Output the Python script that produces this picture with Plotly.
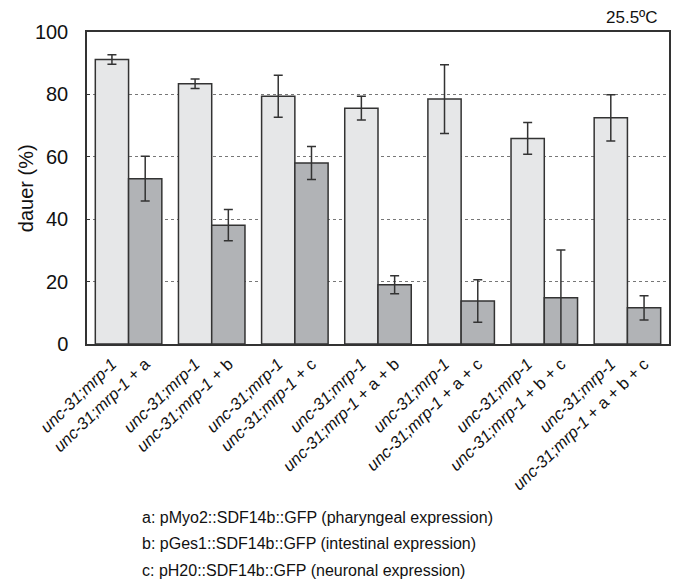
import plotly.graph_objects as go

# Dauer formation at 25.5 °C: control strain vs. rescue constructs
groups = [0, 1, 2, 3, 4, 5, 6]
control_labels = ["<i>unc-31;mrp-1</i>"] * 7
rescue_labels = [
    "<i>unc-31;mrp-1</i> + a",
    "<i>unc-31;mrp-1</i> + b",
    "<i>unc-31;mrp-1</i> + c",
    "<i>unc-31;mrp-1</i> + a + b",
    "<i>unc-31;mrp-1</i> + a + c",
    "<i>unc-31;mrp-1</i> + b + c",
    "<i>unc-31;mrp-1</i> + a + b + c",
]
control_vals = [91.2, 83.4, 79.4, 75.6, 78.5, 65.9, 72.5]
control_err = [1.5, 1.5, 6.7, 3.8, 11.0, 5.1, 7.4]
rescue_vals = [53.0, 38.1, 58.0, 19.0, 13.8, 14.8, 11.6]
rescue_err = [7.2, 5.0, 5.3, 2.9, 6.8, 15.3, 3.9]

y_ticks = [0, 20, 40, 60, 80, 100]
footnotes = [
    "a: pMyo2::SDF14b::GFP (pharyngeal expression)",
    "b: pGes1::SDF14b::GFP (intestinal expression)",
    "c: pH20::SDF14b::GFP (neuronal expression)",
]

FONT = "Liberation Sans, Arial, Helvetica, sans-serif"
EDGE = "#333333"
BAR_GAP = 0.2
half = (1 - BAR_GAP) / 4  # offset of each bar centre from the group centre

# plot-area geometry in pixels
W, H = 676, 582
ML, MR, MT, MB = 87, 5, 32, 238
PW, PH = W - ML - MR, H - MT - MB

err_style = dict(type="data", color=EDGE, thickness=1.5, width=4.5)

fig = go.Figure()
fig.add_trace(go.Bar(
    x=groups, y=control_vals,
    error_y=dict(array=control_err, **err_style),
    marker=dict(color="#e6e7e8", line=dict(color=EDGE, width=1.5)),
    showlegend=False,
))
fig.add_trace(go.Bar(
    x=groups, y=rescue_vals,
    error_y=dict(array=rescue_err, **err_style),
    marker=dict(color="#b1b3b6", line=dict(color=EDGE, width=1.5)),
    showlegend=False,
))

tickvals, ticktext = [], []
for g, c_lab, r_lab in zip(groups, control_labels, rescue_labels):
    tickvals += [g - half, g + half]
    ticktext += [c_lab, r_lab]

fig.update_layout(
    width=W, height=H,
    margin=dict(l=ML, r=MR, t=MT, b=MB),
    barmode="group", bargap=BAR_GAP, bargroupgap=0,
    plot_bgcolor="white", paper_bgcolor="white",
    font=dict(family=FONT, color="#111111"),
    xaxis=dict(
        range=[-0.5, len(groups) - 0.5],
        tickvals=tickvals, ticktext=ticktext,
        tickangle=-44, tickfont=dict(size=16.5),
        ticklabelstandoff=2,
        showline=True, linecolor=EDGE, linewidth=2, mirror=True,
        ticks="", showgrid=False, zeroline=False,
    ),
    yaxis=dict(
        range=[0, 100], tickvals=y_ticks,
        tickfont=dict(size=20), ticks="inside", ticklen=3,
        tickcolor=EDGE, tickwidth=1,
        ticklabelstandoff=13,
        showline=True, linecolor=EDGE, linewidth=1.5, mirror=True,
        showgrid=True, gridcolor="#777777", griddash="dot", gridwidth=1,
        zeroline=False,
    ),
)

# y-axis title
fig.add_annotation(
    text="dauer (%)", xref="paper", yref="paper",
    x=(26 - ML) / PW, y=0.5, xanchor="center", yanchor="middle",
    textangle=-90, showarrow=False, font=dict(size=20),
)

fig.add_annotation(
    text="25.5ºC", xref="paper", yref="paper", x=(662 - ML) / PW, y=1.0,
    xanchor="right", yanchor="bottom", yshift=3,
    showarrow=False, font=dict(size=17),
)

for i, line in enumerate(footnotes):
    fig.add_annotation(
        text=line, xref="paper", yref="paper",
        x=(140 - ML) / PW, y=-(517 - (MT + PH) + i * 26.5) / PH,
        xanchor="left", yanchor="middle",
        showarrow=False, font=dict(size=16),
    )

fig.write_html("out.html")
